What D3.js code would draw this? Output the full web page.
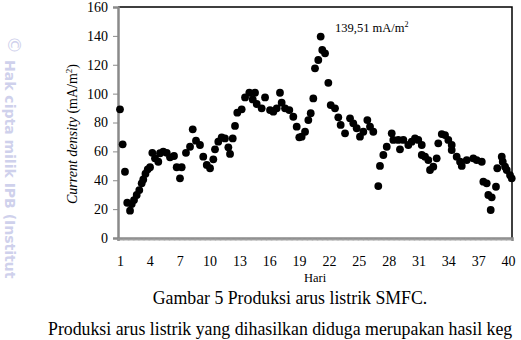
<!DOCTYPE html>
<html>
<head>
<meta charset="utf-8">
<script src="https://cdn.jsdelivr.net/npm/d3@7"></script>
<style>
  body { margin: 0; background: #fff; }
  svg text { font-family: "Liberation Serif", "Times New Roman", serif; fill: #000; }
</style>
</head>
<body>
<div id="chart"></div>
<script>
// hari (day, fractional) and current density (mA/m2)
let hari = [1.00, 1.27, 1.50, 1.73, 2.01, 2.18, 2.41, 2.68, 2.94, 3.18, 3.34, 3.56, 3.79, 4.02, 4.25, 4.52, 4.85,
  5.02, 5.35, 5.70, 6.03, 6.43, 6.70, 7.03, 7.20, 7.63, 8.04, 8.31, 8.64, 9.04, 9.37, 9.72, 10.05, 10.38,
  10.55, 10.88, 11.22, 11.55, 11.89, 12.06, 12.33, 12.56, 12.79, 13.23, 13.57, 14.00, 14.34, 14.57, 14.74,
  15.24, 15.58, 16.08, 16.41, 16.75, 17.08, 17.25, 17.59, 18.02, 18.42, 18.76, 19.02, 19.26, 19.60, 19.93,
  20.17, 20.43, 20.60, 20.93, 21.17, 21.33, 21.61, 21.94, 22.18, 22.61, 22.94, 23.18, 23.62, 24.12, 24.45,
  24.79, 25.12, 25.46, 25.86, 26.13, 26.46, 26.96, 27.13, 27.47, 27.81, 28.31, 28.47, 28.97, 29.14, 29.48,
  29.98, 30.32, 30.65, 30.98, 31.33, 31.33, 31.66, 31.99, 32.16, 32.49, 32.83, 32.99, 33.34, 33.67, 34.00,
  34.34, 34.34, 34.84, 35.18, 35.35, 35.85, 36.51, 36.85, 37.36, 37.52, 37.86, 38.02, 38.26, 38.36, 38.79,
  38.92, 39.37, 39.47, 39.70, 39.87, 40.20, 40.37]
let density = [89.1, 64.9, 45.9, 24.4, 18.9, 23.5, 26.3, 29.8, 33.2, 37.9, 40.6, 44.5, 47.6, 49.0, 59.0, 55.2, 52.8,
  58.7, 59.8, 59.0, 55.9, 56.8, 49.0, 41.3, 49.0, 59.0, 63.2, 75.3, 67.4, 64.4, 56.3, 50.6, 48.3, 54.5,
  61.4, 66.7, 69.7, 69.0, 62.8, 58.2, 69.0, 77.6, 86.8, 89.1, 97.4, 100.6, 96.0, 100.6, 92.8,
  89.8, 97.4, 88.6, 87.5, 89.8, 100.6, 93.7, 89.8, 88.6, 84.0, 77.1, 69.7, 70.2, 73.6, 81.7,
  86.4, 96.7, 117.5, 123.3, 139.51, 130.2, 127.9, 107.5, 92.1, 89.8, 83.6, 78.3, 72.5, 82.9, 79.4,
  76.0, 70.2, 73.6, 81.7, 77.1, 73.6, 36.0, 49.9, 57.5, 63.2, 72.5, 67.9, 67.9, 61.4, 67.9,
  64.4, 66.7, 69.0, 67.9, 64.4, 57.5, 56.3, 54.0, 47.1, 49.4, 55.2, 65.6, 72.0, 71.3, 67.9,
  64.4, 60.9, 56.3, 52.8, 49.9, 54.0, 55.2, 54.0, 52.8, 39.0, 37.9, 29.8, 19.4, 28.2, 35.5,
  48.3, 56.3, 52.8, 49.4, 47.1, 43.6, 41.3]

let xTickLabels = [1, 4, 7, 10, 13, 16, 19, 22, 25, 28, 31, 34, 37, 40]
let yTicks = [0, 20, 40, 60, 80, 100, 120, 140, 160]
let peakLabel = "139,51 mA/m"

let width = 521, height = 340

let svg = d3.select("#chart")
  .append("svg")
  .attr("width", width)
  .attr("height", height)

// watermark on the left edge
let wm = svg.append("g")
wm.append("text").attr("transform", "translate(8,36) rotate(90)")
  .style("font-family", "DejaVu Sans").style("font-size", "18px").style("fill", "#cfd1ec")
  .text("\u00a9")
wm.append("text").attr("transform", "translate(5,60) rotate(90)")
  .style("font-family", "DejaVu Sans").style("font-size", "14px").style("font-weight", "bold")
  .style("fill", "#cfd1ec")
  .text("Hak cipta milik IPB (Institut")

let x = d3.scaleLinear().domain([0.8, 40.4]).range([118, 512])
let y = d3.scaleLinear().domain([0, 160]).range([238, 7])

// top and right border
svg.append("path")
  .attr("d", `M${x(0.8)},${y(160)}H${x(40.4)}V${y(0)}`)
  .attr("fill", "none").attr("stroke", "#000").attr("stroke-width", 1.5)

// y axis
let yAxis = svg.append("g")
  .attr("transform", `translate(${x(0.8)},0)`)
  .call(d3.axisLeft(y).tickValues(yTicks).tickSize(5).tickPadding(5))
yAxis.select(".domain").attr("stroke", "#8a8a8a").attr("stroke-width", 2.5)
yAxis.selectAll(".tick line").attr("stroke", "#8a8a8a").attr("stroke-width", 1)
yAxis.selectAll(".tick text").style("font-family", "Liberation Serif").style("font-size", "14px").attr("fill", "#000")

// x axis: dense minor ticks
let minor = d3.range(0.8, 40.4, 0.125)
let xMinor = svg.append("g")
  .attr("transform", `translate(0,${y(0)})`)
  .call(d3.axisBottom(x).tickValues(minor).tickSize(3).tickFormat(""))
xMinor.select(".domain").attr("stroke", "#8a8a8a").attr("stroke-width", 2.5)
xMinor.selectAll(".tick line").attr("stroke", "#9a9a9a").attr("stroke-width", 0.6)

let xLab = svg.append("g")
  .attr("transform", `translate(0,${y(0)})`)
  .call(d3.axisBottom(x).tickValues(xTickLabels).tickSize(0).tickPadding(18))
xLab.select(".domain").remove()
xLab.selectAll(".tick text").style("font-family", "Liberation Serif").style("font-size", "14px").attr("fill", "#000")

// points
svg.append("g").selectAll("circle")
  .data(hari)
  .join("circle")
  .attr("cx", d => x(d))
  .attr("cy", (d, i) => y(density[i]))
  .attr("r", 3.9)
  .attr("fill", "#000")

// peak annotation
let pk = svg.append("text").attr("x", 335).attr("y", 32).style("font-size", "12.5px")
pk.append("tspan").text(peakLabel)
pk.append("tspan").attr("dy", -5).style("font-size", "8px").text("2")

// axis titles
svg.append("text").attr("x", 315).attr("y", 282).attr("text-anchor", "middle")
  .style("font-size", "12.5px").text("Hari")

let yt = svg.append("text")
  .attr("transform", "translate(77,134) rotate(-90)")
  .attr("text-anchor", "middle")
  .style("font-size", "14px")
yt.append("tspan").style("font-style", "italic").text("Current density")
yt.append("tspan").text(" (mA/m")
yt.append("tspan").attr("dy", -5).style("font-size", "9px").text("2")
yt.append("tspan").attr("dy", 5).text(")")

// caption and body text
svg.append("text").attr("x", 290).attr("y", 304).attr("text-anchor", "middle")
  .style("font-size", "17.8px").text("Gambar 5 Produksi arus listrik SMFC.")
svg.append("text").attr("x", 48).attr("y", 335)
  .style("font-size", "17.8px").text("Produksi arus listrik yang dihasilkan diduga merupakan hasil keg")
</script>
</body>
</html>
